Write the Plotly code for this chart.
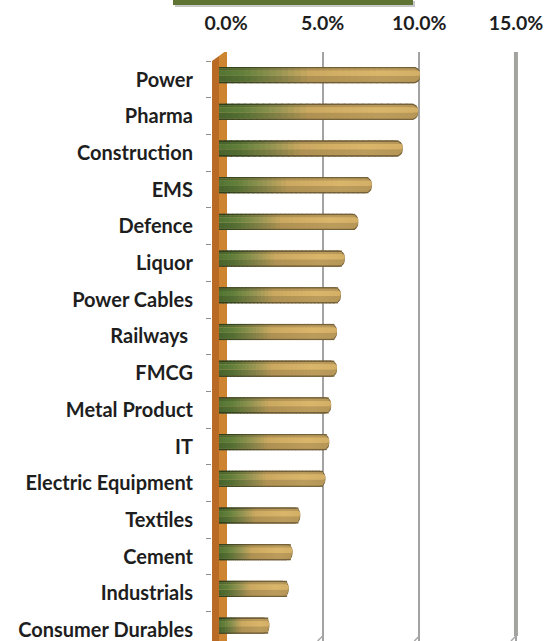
import plotly.graph_objects as go

# Sector weights (share of portfolio)
sectors = [
    "Power", "Pharma", "Construction", "EMS", "Defence", "Liquor",
    "Power Cables", "Railways\u00a0", "FMCG", "Metal Product", "IT",
    "Electric Equipment", "Textiles", "Cement", "Industrials",
    "Consumer Durables",
]
weights = [
    0.104, 0.103, 0.095, 0.079, 0.072, 0.065, 0.063, 0.061, 0.061,
    0.058, 0.057, 0.055, 0.042, 0.038, 0.036, 0.026,
]
tick_values = [0.0, 0.05, 0.10, 0.15]

FONT = "Lato"
W, H = 553, 641
L, R, T, B = 212, 530, 52, 641          # plot area in pixels
ROW = 36.7                              # pixels per category row
ROW0 = 79.5                             # pixel centre of first row
PX_PER_UNIT = 1933.0                    # pixels per 1.0 (=100%)
BACK_ZERO, FRONT_ZERO = 226, 219        # zero of back wall / bar plane


def px_x(px):
    return (px - L) / (R - L)


def px_y(py):
    return (B - py) / (B - T)


def mix(c1, c2, t):
    return tuple(a + (b - a) * t for a, b in zip(c1, c2))


def grad(t):
    stops = [(0.0, (78, 108, 48)), (0.12, (92, 120, 56)), (0.30, (142, 140, 78)),
             (0.45, (190, 158, 90)), (0.80, (204, 170, 100)), (1.0, (198, 164, 96))]
    for (t0, c0), (t1, c1) in zip(stops, stops[1:]):
        if t <= t1:
            return mix(c0, c1, (t - t0) / (t1 - t0))
    return stops[-1][1]


def rgb(c, k=1.0):
    return "rgb(%d,%d,%d)" % tuple(max(0, min(255, round(v * k))) for v in c)


n = len(sectors)
ypos = list(range(n))
NSEG = 32
SHIFT = -0.12  # bars sit slightly above the row centre (3-D depth)

# (bar thickness in rows, brightness factor, extra vertical shift)
layers = [(0.44, 0.58, 0.0), (0.36, 0.92, 0.0), (0.14, 1.07, -0.05)]

fig = go.Figure()
for width, k, dy in layers:
    off = -width / 2 + SHIFT + dy
    # full-length bar carries the rounded end cap
    fig.add_trace(go.Bar(
        y=ypos, x=weights, orientation="h", xaxis="x2", yaxis="y",
        width=width, offset=off, marker=dict(color=rgb(grad(1.0), k), cornerradius=6,
                                               line=dict(width=0)),
        hoverinfo="skip", showlegend=False,
    ))
    # shaded segments along the length
    for s in range(NSEG - 1):
        t = (s + 0.5) / NSEG
        fig.add_trace(go.Bar(
            y=ypos, x=[w / NSEG * 1.3 for w in weights],
            base=[w * s / NSEG for w in weights],
            orientation="h", xaxis="x2", yaxis="y",
            width=width, offset=off,
            marker=dict(color=rgb(grad(t), k), line=dict(width=0)),
            hoverinfo="skip", showlegend=False,
        ))

shapes = []


def wx(px):
    return (px - BACK_ZERO) / PX_PER_UNIT


def wy(py):
    return (py - ROW0) / ROW


# side wall of the 3-D frame
wall_left = "M %f,%f L %f,%f L %f,%f L %f,%f Z" % (
    wx(212), wy(61), wx(219), wy(56), wx(219), wy(650), wx(212), wy(650))
wall_right = "M %f,%f L %f,%f L %f,%f L %f,%f Z" % (
    wx(219), wy(56), wx(227), wy(50), wx(227), wy(650), wx(219), wy(650))
shapes.append(dict(type="path", path=wall_left, xref="x", yref="y", layer="between",
                   fillcolor="#b96a24", line=dict(width=0)))
shapes.append(dict(type="path", path=wall_right, xref="x", yref="y", layer="between",
                   fillcolor="#cd8532", line=dict(width=0)))
# back wall edge at the right
shapes.append(dict(type="line", xref="x", yref="paper", x0=0.15, x1=0.15,
                   y0=px_y(636), y1=1.0, layer="between",
                   line=dict(color="#a4a49b", width=4)))
# small perspective hooks at the foot of the grid lines
for v in tick_values[1:]:
    gx = BACK_ZERO + v * PX_PER_UNIT
    shapes.append(dict(type="line", xref="paper", yref="paper",
                       x0=px_x(gx), y0=px_y(636), x1=px_x(gx - 5), y1=px_y(641),
                       line=dict(color="#a8a8a8", width=1.5)))
# header bar
shapes.append(dict(type="rect", xref="paper", yref="paper",
                   x0=px_x(175), x1=px_x(415), y0=px_y(7), y1=px_y(1),
                   fillcolor="#c8c8c8", line=dict(width=0)))
shapes.append(dict(type="rect", xref="paper", yref="paper",
                   x0=px_x(173), x1=px_x(413), y0=px_y(5), y1=px_y(-2),
                   fillcolor="#5f7432", line=dict(width=0)))

fig.update_layout(
    width=W, height=H,
    margin=dict(l=L, r=W - R, t=T, b=H - B, pad=0),
    paper_bgcolor="white", plot_bgcolor="white",
    barmode="overlay", showlegend=False,
    font=dict(family=FONT, size=18, color="#1e1e1e"),
    xaxis=dict(
        range=[(L - BACK_ZERO) / PX_PER_UNIT, (R - BACK_ZERO) / PX_PER_UNIT],
        side="top", tickvals=tick_values, tickformat=".1%",
        tickfont=dict(family=FONT, size=19.5, color="#1e1e1e", weight="bold"),
        showgrid=True, gridcolor="#a3a3a3", gridwidth=1.5,
        zeroline=False, showline=False, ticks="", ticklabelstandoff=17,
        fixedrange=True,
    ),
    xaxis2=dict(
        range=[(L - FRONT_ZERO) / PX_PER_UNIT, (R - FRONT_ZERO) / PX_PER_UNIT],
        overlaying="x", visible=False, fixedrange=True,
    ),
    yaxis=dict(
        range=[(B - ROW0) / ROW, (T - ROW0) / ROW],
        tickvals=ypos, ticktext=sectors,
        tickfont=dict(family=FONT, size=20, color="#1e1e1e", weight="bold"),
        ticks="", showgrid=False, zeroline=False, showline=False,
        ticklabelstandoff=18,
        minor=dict(tickvals=[i - 0.5 for i in range(n + 1)], ticks="outside",
                   ticklen=5, tickcolor="#8e8e8e", tickwidth=1, showgrid=False),
        fixedrange=True,
    ),
    shapes=shapes,
)

fig.write_html("out.html")
